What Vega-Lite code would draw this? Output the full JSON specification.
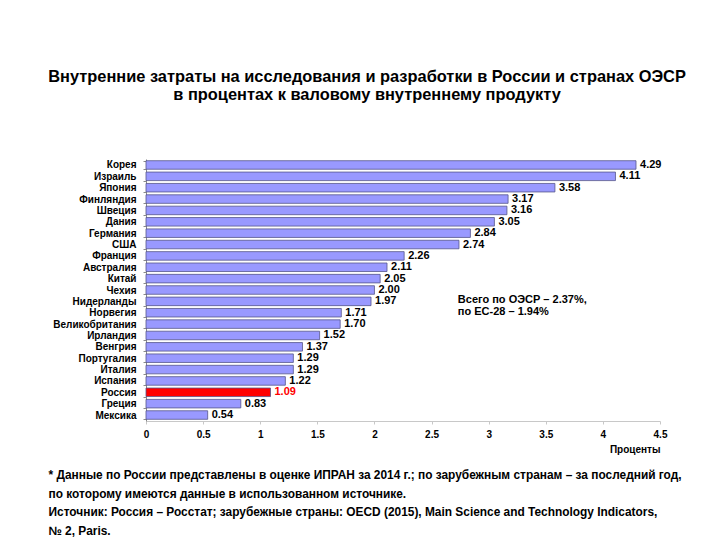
{
  "$schema": "https://vega.github.io/schema/vega-lite/v6.json",
  "background": "white",
  "padding": {"left": 48, "top": 68, "right": 10, "bottom": 5},
  "config": {
    "view": {"stroke": null},
    "font": "Liberation Sans",
    "concat": {"spacing": 12}
  },
  "title": {
    "text": ["Внутренние затраты на исследования и разработки в России и странах ОЭСР", "в процентах к валовому внутреннему продукту"],
    "font": "Liberation Sans",
    "fontSize": 16.4,
    "fontWeight": "bold",
    "color": "black",
    "lineHeight": 18,
    "anchor": "middle",
    "dx": 2,
    "offset": 51
  },
  "vconcat": [
    {
      "width": 514,
      "height": 262,
      "data": {
        "values": [
          {"country": "Корея", "value": 4.29},
          {"country": "Израиль", "value": 4.11},
          {"country": "Япония", "value": 3.58},
          {"country": "Финляндия", "value": 3.17},
          {"country": "Швеция", "value": 3.16},
          {"country": "Дания", "value": 3.05},
          {"country": "Германия", "value": 2.84},
          {"country": "США", "value": 2.74},
          {"country": "Франция", "value": 2.26},
          {"country": "Австралия", "value": 2.11},
          {"country": "Китай", "value": 2.05},
          {"country": "Чехия", "value": 2.00},
          {"country": "Нидерланды", "value": 1.97},
          {"country": "Норвегия", "value": 1.71},
          {"country": "Великобритания", "value": 1.70},
          {"country": "Ирландия", "value": 1.52},
          {"country": "Венгрия", "value": 1.37},
          {"country": "Португалия", "value": 1.29},
          {"country": "Италия", "value": 1.29},
          {"country": "Испания", "value": 1.22},
          {"country": "Россия", "value": 1.09},
          {"country": "Греция", "value": 0.83},
          {"country": "Мексика", "value": 0.54}
        ]
      },
      "encoding": {
        "y": {
          "field": "country",
          "type": "nominal",
          "sort": null,
          "title": null,
          "scale": {"paddingInner": 0.25, "paddingOuter": 0.15},
          "axis": {
            "labelFont": "Liberation Sans",
            "labelFontWeight": "bold",
            "labelFontSize": 10,
            "labelColor": "black",
            "labelPadding": 7,
            "domainColor": "#8a8a8a",
            "tickColor": "#8a8a8a",
            "tickBand": "extent",
            "tickSize": 3
          }
        },
        "x": {
          "field": "value",
          "type": "quantitative",
          "scale": {"domain": [0, 4.5], "nice": false},
          "axis": {
            "values": [0, 0.5, 1, 1.5, 2, 2.5, 3, 3.5, 4, 4.5],
            "format": "~g",
            "grid": false,
            "title": "Проценты",
            "titleAnchor": "end",
            "titleFont": "Liberation Sans",
            "titleFontSize": 10,
            "titleFontWeight": "bold",
            "titleColor": "black",
            "titlePadding": 5,
            "labelFont": "Liberation Sans",
            "labelFontWeight": "bold",
            "labelFontSize": 10,
            "labelColor": "black",
            "labelPadding": 5,
            "labelFlush": false,
            "domainColor": "#c8c8c8",
            "tickColor": "#c8c8c8",
            "tickSize": 3
          }
        }
      },
      "layer": [
        {
          "mark": {"type": "bar", "stroke": "#55558a", "strokeWidth": 0.8},
          "encoding": {
            "color": {
              "condition": {"test": "datum.country === 'Россия'", "value": "#ff0000"},
              "value": "#9999ff"
            }
          }
        },
        {
          "mark": {"type": "text", "align": "left", "baseline": "middle", "dx": 4, "fontSize": 11, "fontWeight": "bold", "font": "Liberation Sans"},
          "encoding": {
            "text": {"field": "value", "type": "quantitative", "format": ".2f"},
            "color": {
              "condition": {"test": "datum.country === 'Россия'", "value": "#ff0000"},
              "value": "black"
            }
          }
        },
        {
          "data": {
            "values": [
              {"country": "Нидерланды", "value": 2.73, "note": "Всего по ОЭСР – 2.37%,"},
              {"country": "Норвегия", "value": 2.73, "note": "по ЕС-28 – 1.94%"}
            ]
          },
          "mark": {"type": "text", "align": "left", "baseline": "middle", "dy": -1, "fontSize": 11, "fontWeight": "bold", "font": "Liberation Sans", "color": "black"},
          "encoding": {
            "text": {"field": "note"}
          }
        }
      ]
    },
    {
      "width": 1,
      "height": 74,
      "data": {
        "values": [
          {"line": 1, "text": "* Данные по России представлены в оценке ИПРАН за 2014 г.; по зарубежным странам – за последний год,"},
          {"line": 2, "text": "по которому имеются данные в использованном источнике."},
          {"line": 3, "text": "Источник: Россия – Росстат; зарубежные страны: OECD (2015), Main Science and Technology Indicators,"},
          {"line": 4, "text": "№ 2, Paris."}
        ]
      },
      "mark": {"type": "text", "align": "left", "baseline": "middle", "dx": -98, "font": "Liberation Sans", "fontSize": 11.9, "fontWeight": "bold", "color": "black"},
      "encoding": {
        "y": {"field": "line", "type": "ordinal", "axis": null, "scale": {"type": "point", "padding": 0.5}},
        "text": {"field": "text"}
      }
    }
  ]
}
